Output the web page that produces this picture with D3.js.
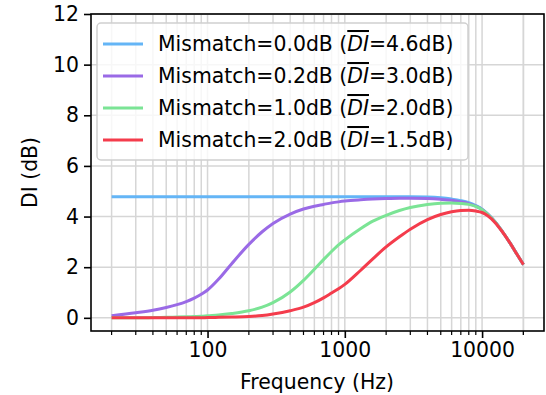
<!DOCTYPE html>
<html>
<head>
<meta charset="utf-8">
<script src="https://cdn.jsdelivr.net/npm/d3@7"></script>
<style>
  body { margin: 0; background: #fff; }
  text { font-family: "DejaVu Sans", sans-serif; fill: #000; }
</style>
</head>
<body>
<svg id="chart" width="546" height="395"></svg>
<script>
// frequencies (Hz) the curves were read at
const freqs = [20, 30, 40, 50, 60, 70, 80, 90, 100, 120, 150, 200, 250, 300, 400, 500, 600, 700, 800, 900,
  1000, 1300, 1600, 2000, 2500, 3000, 4000, 5000, 6000, 7000, 8000, 9000, 10000, 11000, 12500, 14000, 16000, 18000, 20000]

const di_0_0 = [4.78, 4.78, 4.78, 4.78, 4.78, 4.78, 4.78, 4.78, 4.78, 4.78, 4.78, 4.78, 4.78, 4.78, 4.78, 4.78, 4.78, 4.78, 4.78, 4.78,
  4.78, 4.78, 4.78, 4.78, 4.78, 4.78, 4.77, 4.74, 4.69, 4.63, 4.55, 4.43, 4.29, 4.1, 3.78, 3.42, 2.95, 2.5, 2.1]
const di_0_2 = [0.08, 0.2, 0.3, 0.41, 0.52, 0.64, 0.78, 0.93, 1.1, 1.52, 2.14, 2.9, 3.4, 3.73, 4.1, 4.3, 4.41, 4.48, 4.54, 4.58,
  4.61, 4.66, 4.69, 4.71, 4.72, 4.72, 4.71, 4.68, 4.64, 4.58, 4.51, 4.41, 4.28, 4.1, 3.78, 3.42, 2.95, 2.5, 2.1]
const di_1_0 = [0, 0, 0.01, 0.02, 0.03, 0.04, 0.05, 0.06, 0.08, 0.11, 0.17, 0.28, 0.42, 0.6, 1.02, 1.48, 1.92, 2.3, 2.62, 2.88,
  3.08, 3.52, 3.82, 4.05, 4.24, 4.36, 4.48, 4.53, 4.54, 4.52, 4.48, 4.4, 4.27, 4.09, 3.78, 3.42, 2.95, 2.5, 2.1]
const di_2_0 = [0, 0, 0, 0, 0, 0, 0, 0, 0.01, 0.02, 0.03, 0.05, 0.09, 0.15, 0.28, 0.42, 0.6, 0.79, 0.98, 1.15,
  1.32, 1.87, 2.33, 2.8, 3.2, 3.5, 3.88, 4.08, 4.19, 4.24, 4.25, 4.22, 4.16, 4.03, 3.75, 3.41, 2.95, 2.5, 2.1]

const labels = ["Mismatch=0.0dB", "Mismatch=0.2dB", "Mismatch=1.0dB", "Mismatch=2.0dB"]
const means = ["4.6dB", "3.0dB", "2.0dB", "1.5dB"]
const colors = ["#64b5f6", "#9a6ae6", "#7be495", "#f43c4c"]
const yTicks = [0, 2, 4, 6, 8, 10, 12]
const xTicks = [100, 1000, 10000]

let series = [di_0_0, di_0_2, di_1_0, di_2_0].map((vals, i) =>
  ({ name: labels[i], mean: means[i], color: colors[i], values: vals.map((v, k) => ({ f: freqs[k], v: v })) }))

let margin = { top: 14, right: 2, bottom: 64, left: 91 }
let W = 546, H = 395
let fs = "20.4px"

let lo = Math.log10(20), hi = Math.log10(20000), pad = (hi - lo) * 0.05
let x = d3.scaleLog()
  .domain([Math.pow(10, lo - pad), Math.pow(10, hi + pad)])
  .range([margin.left, W - margin.right])
let y = d3.scaleLinear()
  .domain([-0.52, 12])
  .range([H - margin.bottom, margin.top])

let svg = d3.select("#chart")

// minor + major frequencies for grid
let gridF = []
for (let dec = 10; dec <= 10000; dec *= 10)
  for (let m = 1; m <= 9; m++) gridF.push(dec * m)
gridF.push(20000)
gridF = gridF.filter(f => f >= x.domain()[0] && f <= x.domain()[1])

let grid = svg.append("g").attr("id", "grid")
grid.selectAll("line.v")
  .data(gridF).enter()
  .append("line")
  .attr("class", "v")
  .attr("x1", d => x(d)).attr("x2", d => x(d))
  .attr("y1", margin.top).attr("y2", H - margin.bottom)
  .attr("stroke", "#d6d6d6").attr("stroke-width", 1.5)
grid.selectAll("line.h")
  .data(yTicks).enter()
  .append("line")
  .attr("class", "h")
  .attr("x1", margin.left).attr("x2", W - margin.right)
  .attr("y1", d => y(d)).attr("y2", d => y(d))
  .attr("stroke", "#d6d6d6").attr("stroke-width", 1.5)

// curves
let line = d3.line()
  .x(d => x(d.f))
  .y(d => y(d.v))
  .curve(d3.curveMonotoneX)

svg.append("g").attr("id", "lines")
  .selectAll("path")
  .data(series).enter()
  .append("path")
  .attr("d", d => line(d.values))
  .attr("fill", "none")
  .attr("stroke", d => d.color)
  .attr("stroke-width", 3)

// axes
let xAxis = d3.axisBottom(x)
  .tickValues(xTicks)
  .tickFormat(d3.format("d"))
  .tickSize(7).tickPadding(5)
let gx = svg.append("g")
  .attr("transform", `translate(0, ${H - margin.bottom})`)
  .call(xAxis)
gx.selectAll(".minor")
  .data(gridF.filter(f => !xTicks.includes(f))).enter()
  .append("line")
  .attr("class", "minor")
  .attr("x1", d => x(d)).attr("x2", d => x(d))
  .attr("y1", 0).attr("y2", 4)
  .attr("stroke", "#000").attr("stroke-width", 1.2)

let yAxis = d3.axisLeft(y)
  .tickValues(yTicks)
  .tickSize(7).tickPadding(5)
let gy = svg.append("g")
  .attr("transform", `translate(${margin.left}, 0)`)
  .call(yAxis)

svg.selectAll(".domain").remove()
svg.selectAll(".tick line").attr("stroke-width", 1.6)
svg.selectAll(".tick text")
  .style("font-family", "DejaVu Sans")
  .style("font-size", fs)

// frame
svg.append("rect")
  .attr("x", margin.left).attr("y", margin.top)
  .attr("width", W - margin.right - margin.left)
  .attr("height", H - margin.bottom - margin.top)
  .attr("fill", "none").attr("stroke", "#000").attr("stroke-width", 1.6)

// axis titles
svg.append("text")
  .attr("x", 317).attr("y", 389)
  .attr("text-anchor", "middle")
  .style("font-size", fs)
  .text("Frequency (Hz)")
svg.append("text")
  .attr("transform", `translate(37, ${(margin.top + H - margin.bottom) / 2}) rotate(-90)`)
  .attr("text-anchor", "middle")
  .style("font-size", fs)
  .text("DI (dB)")

// legend
let lg = svg.append("g").attr("transform", "translate(97, 23)")
lg.append("rect")
  .attr("width", 371).attr("height", 137)
  .attr("rx", 4)
  .attr("fill", "#fff").attr("fill-opacity", 0.8)
  .attr("stroke", "#d0d0d0").attr("stroke-width", 1.5)
let rows = lg.selectAll("g.row")
  .data(series).enter()
  .append("g")
  .attr("class", "row")
  .attr("transform", (d, i) => `translate(0, ${21 + i * 32})`)
rows.append("line")
  .attr("x1", 6).attr("x2", 46)
  .attr("stroke", d => d.color).attr("stroke-width", 3)
let t = rows.append("text")
  .attr("x", 61).attr("y", 7)
  .style("font-size", fs)
t.append("tspan").text(d => d.name + " (")
t.append("tspan")
  .style("font-style", "italic")
  .style("text-decoration", "overline")
  .text("DI")
t.append("tspan").text(d => "=" + d.mean + ")")
</script>
</body>
</html>
